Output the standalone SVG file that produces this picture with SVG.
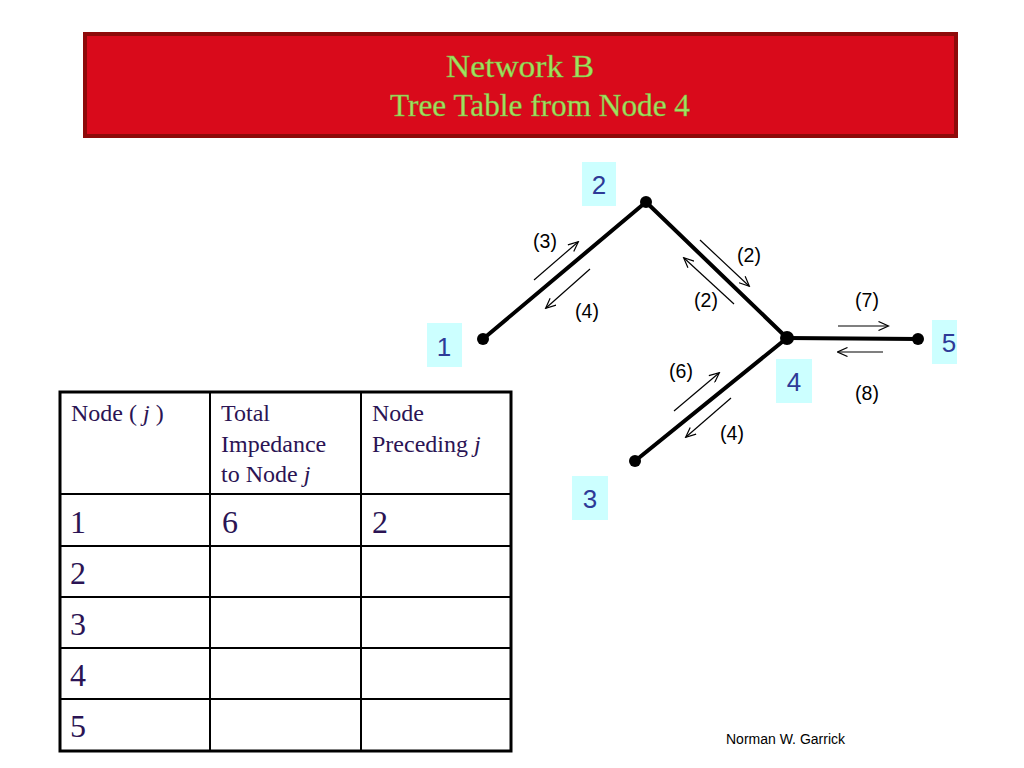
<svg xmlns="http://www.w3.org/2000/svg" width="1024" height="768" viewBox="0 0 1024 768">
<defs>
<marker id="ah" viewBox="0 0 10 10" refX="9.5" refY="5" markerUnits="userSpaceOnUse" markerWidth="12" markerHeight="10" orient="auto">
<path d="M0,0.5 L10,5 L0,9.5" fill="none" stroke="#000" stroke-width="1.2"/>
</marker>
</defs>
<style>
.title{font-family:"Liberation Serif","Times New Roman",serif;font-size:31px;fill:#9FE35E;text-anchor:middle;stroke:#7FB848;stroke-width:0.4}
.edge{stroke:#000;stroke-width:4;stroke-linecap:round}
.dot{fill:#000}
.arr{stroke:#000;stroke-width:1.2;fill:none;marker-end:url(#ah)}
.lbl{font-family:"Liberation Sans",Arial,sans-serif;font-size:19.5px;fill:#000;text-anchor:middle}
.nbox{fill:#CCFFFF}
.ntxt{font-family:"Liberation Sans",Arial,sans-serif;font-size:26px;fill:#2E3A97;text-anchor:middle}
.grid{stroke:#000;stroke-width:2;fill:none}
.th{font-family:"Liberation Serif","Times New Roman",serif;font-size:24px;fill:#2B1454}
.td{font-family:"Liberation Serif","Times New Roman",serif;font-size:32px;fill:#2B1454}
.foot{font-family:"Liberation Sans",Arial,sans-serif;font-size:14px;fill:#000}
</style>
<rect width="1024" height="768" fill="#fff"/>
<g id="title">
<rect x="85" y="34" width="871" height="102" fill="#D90A1B" stroke="#8E0A0A" stroke-width="4"/>
<text class="title" x="520" y="77" textLength="148" lengthAdjust="spacingAndGlyphs">Network B</text>
<text class="title" x="540" y="116" textLength="300" lengthAdjust="spacingAndGlyphs">Tree Table from Node 4</text>
</g>
<g id="connectors">
<line class="edge" x1="483" y1="339" x2="646" y2="202"/>
<line class="edge" x1="646" y1="202" x2="787" y2="338"/>
<line class="edge" x1="787" y1="338" x2="918" y2="339"/>
<line class="edge" x1="787" y1="338" x2="635" y2="461"/>
<line class="arr" x1="534" y1="280" x2="578" y2="242"/>
<line class="arr" x1="590" y1="269" x2="546" y2="308"/>
<line class="arr" x1="700" y1="240" x2="749" y2="286"/>
<line class="arr" x1="734" y1="304" x2="684" y2="258"/>
<line class="arr" x1="838" y1="326" x2="888" y2="326"/>
<line class="arr" x1="883" y1="352" x2="838" y2="352"/>
<line class="arr" x1="674" y1="411" x2="719" y2="373"/>
<line class="arr" x1="731" y1="398" x2="686" y2="437"/>
<text class="lbl" x="545" y="248">(3)</text>
<text class="lbl" x="587" y="318">(4)</text>
<text class="lbl" x="749" y="262">(2)</text>
<text class="lbl" x="706" y="307">(2)</text>
<text class="lbl" x="867" y="307">(7)</text>
<text class="lbl" x="867" y="400">(8)</text>
<text class="lbl" x="681" y="378">(6)</text>
<text class="lbl" x="732" y="440">(4)</text>
</g>
<g id="node1">
<circle class="dot" cx="483" cy="339" r="6"/>
<rect class="nbox" x="427" y="323" width="35" height="44"/>
<text class="ntxt" x="444" y="356">1</text>
</g>
<g id="node2">
<circle class="dot" cx="646" cy="202" r="6"/>
<rect class="nbox" x="582" y="162" width="34" height="44"/>
<text class="ntxt" x="599" y="194">2</text>
</g>
<g id="node3">
<circle class="dot" cx="635" cy="461" r="6"/>
<rect class="nbox" x="572" y="476" width="36" height="44"/>
<text class="ntxt" x="590" y="508">3</text>
</g>
<g id="node4">
<circle class="dot" cx="787" cy="338" r="7"/>
<rect class="nbox" x="776" y="359" width="36" height="44"/>
<text class="ntxt" x="794" y="391">4</text>
</g>
<g id="node5">
<circle class="dot" cx="918" cy="339" r="6"/>
<rect class="nbox" x="932" y="320" width="25" height="44"/>
<text class="ntxt" x="949" y="352">5</text>
</g>
<g id="table">
<rect x="60" y="392" width="451" height="359" fill="none" stroke="#000" stroke-width="3"/>
<line class="grid" x1="210" y1="392" x2="210" y2="751"/>
<line class="grid" x1="361" y1="392" x2="361" y2="751"/>
<line class="grid" x1="60" y1="494" x2="511" y2="494"/>
<line class="grid" x1="60" y1="546" x2="511" y2="546"/>
<line class="grid" x1="60" y1="597" x2="511" y2="597"/>
<line class="grid" x1="60" y1="648" x2="511" y2="648"/>
<line class="grid" x1="60" y1="699" x2="511" y2="699"/>
<text class="th" x="71" y="421">Node ( <tspan font-style="italic">j</tspan> )</text>
<text class="th" x="221" y="421">Total</text>
<text class="th" x="221" y="452">Impedance</text>
<text class="th" x="221" y="482">to Node <tspan font-style="italic">j</tspan></text>
<text class="th" x="372" y="421">Node</text>
<text class="th" x="372" y="452">Preceding <tspan font-style="italic">j</tspan></text>
<text class="td" x="70" y="533">1</text>
<text class="td" x="222" y="533">6</text>
<text class="td" x="372" y="533">2</text>
<text class="td" x="70" y="584">2</text>
<text class="td" x="70" y="635">3</text>
<text class="td" x="70" y="686">4</text>
<text class="td" x="70" y="737">5</text>
</g>
<text class="foot" x="726" y="744">Norman W. Garrick</text>
</svg>
